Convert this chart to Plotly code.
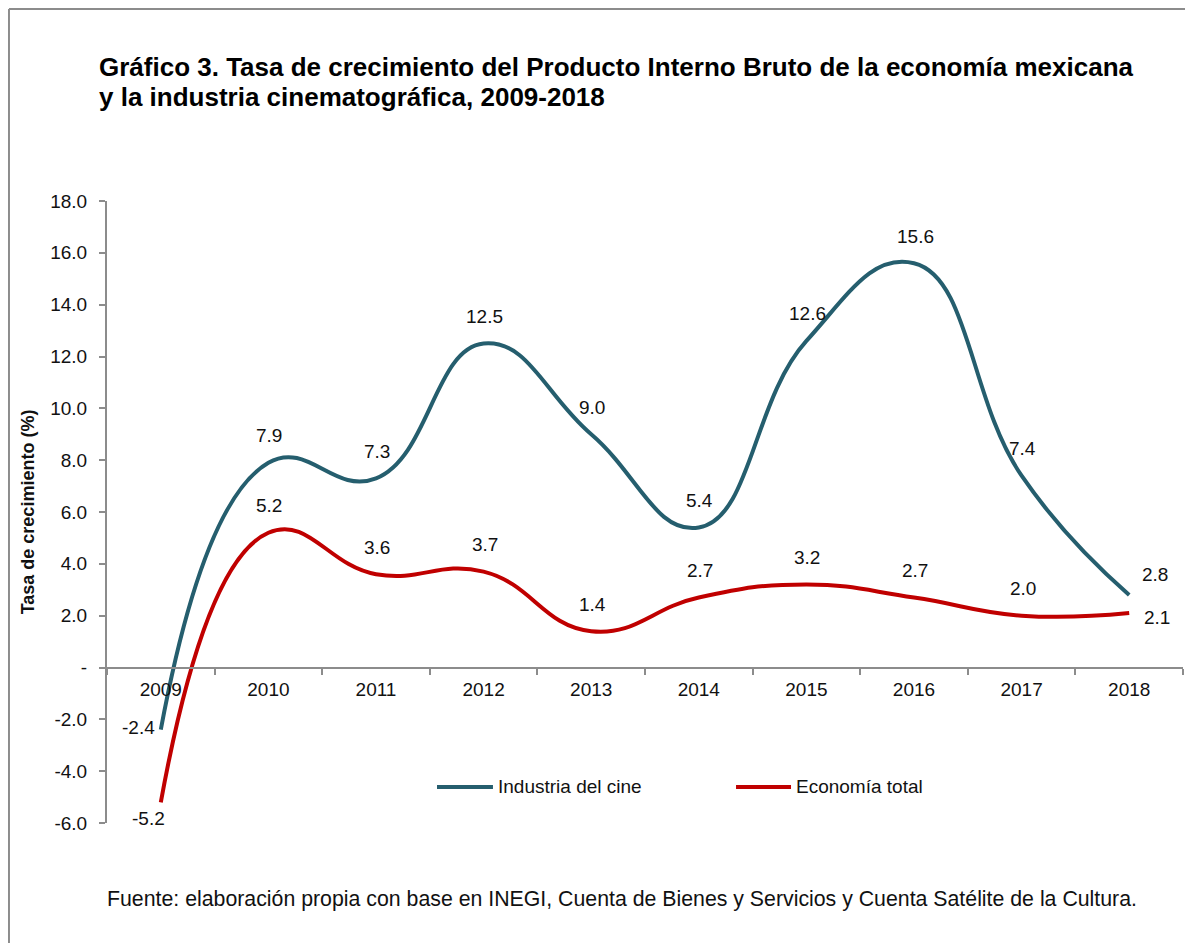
import plotly.graph_objects as go

# datos del gráfico
years = ["2009", "2010", "2011", "2012", "2013", "2014", "2015", "2016", "2017", "2018"]
cine = [-2.4, 7.9, 7.3, 12.5, 9.0, 5.4, 12.6, 15.6, 7.4, 2.8]
economia = [-5.2, 5.2, 3.6, 3.7, 1.4, 2.7, 3.2, 2.7, 2.0, 2.1]
y_ticks = [-6, -4, -2, 0, 2, 4, 6, 8, 10, 12, 14, 16, 18]
y_ticktext = ["-6.0", "-4.0", "-2.0", "-", "2.0", "4.0", "6.0", "8.0",
              "10.0", "12.0", "14.0", "16.0", "18.0"]
series_names = ["Industria del cine", "Economía total"]

TEAL = "#255E6E"
RED = "#C00000"
AXIS = "#8c8c8c"
FONT = "Liberation Sans, Arial, sans-serif"
y_min, y_max = -6, 18

fig = go.Figure()
fig.add_trace(go.Scatter(x=years, y=cine, name=series_names[0], mode="lines",
                         line=dict(color=TEAL, width=4, shape="spline", smoothing=1.3)))
fig.add_trace(go.Scatter(x=years, y=economia, name=series_names[1], mode="lines",
                         line=dict(color=RED, width=4, shape="spline", smoothing=1.3)))

# etiquetas de datos (desplazamiento en px; por defecto arriba)
shift_cine = {0: (-22, 2), 9: (26, 20)}
shift_eco = {0: (-12, -16), 9: (28, -4)}
for vals, shifts in ((cine, shift_cine), (economia, shift_eco)):
    for i, v in enumerate(vals):
        dx, dy = shifts.get(i, (1, 27))
        fig.add_annotation(xref="x", yref="y", x=i, y=v, text=f"{v:.1f}", showarrow=False,
                           xshift=dx, yshift=dy, font=dict(size=19, color="#111"))

# título en dos líneas
title_lines = ["Gráfico 3. Tasa de crecimiento del Producto Interno Bruto de la economía mexicana",
               "y la industria cinematográfica, 2009-2018"]
for line, ty in zip(title_lines, (1.2154, 1.1672)):
    fig.add_annotation(xref="paper", yref="paper", x=-0.0093, y=ty, xanchor="left",
                       yanchor="middle", showarrow=False, text=f"<b>{line}</b>",
                       font=dict(size=26, color="#000"))

fig.add_annotation(xref="paper", yref="paper", x=-0.002, y=-0.122, xanchor="left",
                   yanchor="middle", showarrow=False,
                   text="Fuente: elaboración propia con base en INEGI, Cuenta de Bienes y Servicios y Cuenta Satélite de la Cultura.",
                   font=dict(size=21.3, color="#111"))

# leyenda dibujada a mano (símbolos largos como en el original)
legend_x = [(0.3067, 0.3587), (0.5846, 0.6357)]
for (x0, x1), name, col in zip(legend_x, series_names, (TEAL, RED)):
    fig.add_shape(type="line", xref="paper", yref="paper", x0=x0, x1=x1, y0=0.058, y1=0.058,
                  line=dict(color=col, width=4))
    fig.add_annotation(xref="paper", yref="paper", x=x1 + 0.003, y=0.058, xanchor="left",
                       yanchor="middle", showarrow=False, text=name,
                       font=dict(size=19, color="#111"))

# marco exterior: solo borde superior e izquierdo
fig.add_shape(type="line", xref="paper", yref="paper", x0=-0.0911, y0=-0.3, x1=-0.0911, y1=1.3087,
              line=dict(color=AXIS, width=2), layer="below")
fig.add_shape(type="line", xref="paper", yref="paper", x0=-0.0911, y0=1.3087, x1=1.02, y1=1.3087,
              line=dict(color=AXIS, width=2), layer="below")

fig.update_layout(
    width=1177, height=935,
    margin=dict(l=99, r=2, t=193, b=120),
    paper_bgcolor="white", plot_bgcolor="white",
    font=dict(family=FONT, size=19, color="#111"),
    showlegend=False,
    xaxis=dict(type="category", range=[-0.5, 9.5], anchor="free",
               position=(0 - y_min) / (y_max - y_min),
               showline=True, linecolor=AXIS, linewidth=2, showgrid=False,
               ticks="outside", tickson="boundaries", ticklen=6, tickcolor=AXIS,
               tickwidth=2, ticklabelstandoff=5, tickfont=dict(size=19)),
    yaxis=dict(range=[y_min, y_max], tickvals=y_ticks, ticktext=y_ticktext,
               showline=True, linecolor=AXIS, linewidth=2, showgrid=False,
               zeroline=False, ticks="outside", ticklen=6, tickcolor=AXIS, tickwidth=2,
               ticklabelstandoff=8, tickfont=dict(size=19),
               title=dict(text="<b>Tasa de crecimiento (%)</b>", font=dict(size=18), standoff=11)),
)

fig.write_html("out.html")
